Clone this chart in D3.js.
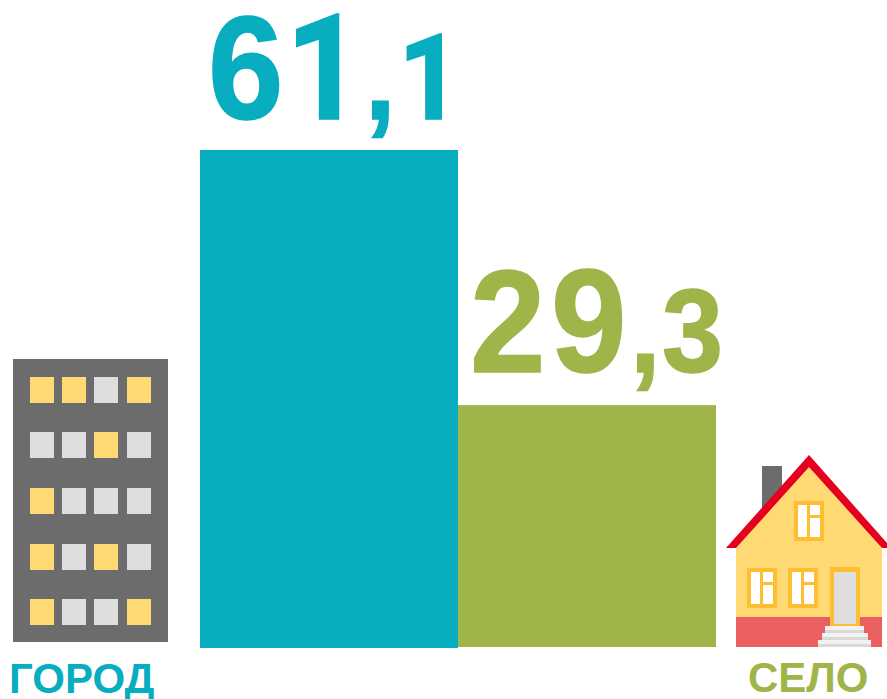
<!DOCTYPE html>
<html>
<head>
<meta charset="utf-8">
<script src="https://cdn.jsdelivr.net/npm/d3@7"></script>
<style>
/* the reference "1" has no foot, Liberation's has one */
@font-face { font-family: "One"; src: local("Roboto Bold"), local("Roboto-Bold"); font-weight: bold; unicode-range: U+0031; }
html, body { margin: 0; padding: 0; background: #fff; }
svg { display: block; }
text { font-family: "Liberation Sans", Arial, sans-serif; font-weight: bold; }
text.value { font-family: "One", "Liberation Sans", Arial, sans-serif; }
</style>
</head>
<body>
<script>
// values
var categories = ['ГОРОД', 'СЕЛО'];
var valueLabels = [['61', ',1'], ['29', ',3']];
// bar lengths (the second bar is drawn a bit taller than 29,3)
var barValues = [61.1, 29.8];

// colours
var teal = '#08adbf', green = '#9fb54a';
var barColors = [teal, green];
var grey = '#6b6c6b', yellow = '#ffd973', light = '#dedede';

// building windows, 1 = lit
var windowRows = [
	[1, 1, 0, 1],
	[0, 0, 1, 0],
	[1, 0, 0, 0],
	[1, 0, 1, 0],
	[1, 0, 0, 1]
];

var width = 887;
var height = 699;

var svg = d3.select('body').append('svg')
.attr('width', width)
.attr('height', height);

var x = d3.scaleBand().domain(categories).range([200, 716]);
var y = d3.scaleLinear().domain([0, 61.1]).range([648, 150]);

svg.selectAll('rect.bar')
.data(categories)
.enter()
.append('rect')
.attr('class', 'bar')
.attr('x', function(d) { return x(d); })
.attr('y', function(d, i) { return y(barValues[i]); })
.attr('width', x.bandwidth())
.attr('height', function(d, i) { return y(0) - y(barValues[i]) - i; })
.attr('fill', function(d, i) { return barColors[i]; });

// value labels, whole part bigger than the decimals
var squeeze = 0.93;
var bigX = [[8, 86], [12, 93]];
var smallX = [[165, 198], [172, 204]];
var labelGap = [31, 33];
function glyphX(list) {
	return list.map(function(v) { return v / squeeze; }).join(' ');
}
var labels = svg.selectAll('text.value')
.data(categories)
.enter()
.append('text')
.attr('class', 'value')
.attr('transform', function(d, i) {
	return 'translate(' + x(d) + ',' + (y(barValues[i]) - labelGap[i]) + ') scale(' + squeeze + ',1)';
})
.attr('fill', function(d, i) { return barColors[i]; })
.attr('stroke', function(d, i) { return barColors[i]; })
.attr('stroke-width', 1.5);

labels.append('tspan')
.attr('font-size', 146)
.attr('x', function(d, i) { return glyphX(bigX[i]); })
.text(function(d, i) { return valueLabels[i][0]; });
labels.append('tspan')
.attr('font-size', 118)
.attr('x', function(d, i) { return glyphX(smallX[i]); })
.text(function(d, i) { return valueLabels[i][1]; });

// building
var building = svg.append('g');
building.append('rect')
.attr('x', 13).attr('y', 359)
.attr('width', 155).attr('height', 283)
.attr('fill', grey);

var winX = [30, 62, 94, 127];
var winY = [377, 432, 488, 544, 599];
windowRows.forEach(function(row, r) {
	building.selectAll('rect.w' + r)
	.data(row)
	.enter()
	.append('rect')
	.attr('class', 'w' + r)
	.attr('x', function(d, i) { return winX[i]; })
	.attr('y', winY[r])
	.attr('width', 24)
	.attr('height', 26)
	.attr('fill', function(d) { return d ? yellow : light; });
});

// house
var house = svg.append('g');
var frame = '#fdbe32';
house.append('rect').attr('x', 762).attr('y', 466).attr('width', 20).attr('height', 50).attr('fill', grey);
house.append('path').attr('d', 'M736,548L809,462L882,548V647H736Z').attr('fill', yellow);
house.append('rect').attr('x', 736).attr('y', 617).attr('width', 146).attr('height', 30).attr('fill', '#ec5f60');
house.append('path').attr('d', 'M726,548L809,455L887,543V548H882L809,467L736,548Z').attr('fill', '#e5001f');

function houseWindow(wx, wy) {
	var g = house.append('g').attr('transform', 'translate(' + wx + ',' + wy + ')');
	g.append('rect').attr('width', 30).attr('height', 40).attr('fill', frame);
	g.append('rect').attr('x', 4).attr('y', 4).attr('width', 9).attr('height', 32).attr('fill', '#fff');
	g.append('rect').attr('x', 16).attr('y', 4).attr('width', 10).attr('height', 10).attr('fill', '#fff');
	g.append('rect').attr('x', 16).attr('y', 17).attr('width', 10).attr('height', 19).attr('fill', '#fff');
}
houseWindow(794, 501);
houseWindow(747, 568);
houseWindow(788, 568);

// door
house.append('rect').attr('x', 830).attr('y', 567).attr('width', 30).attr('height', 60).attr('fill', frame);
house.append('rect').attr('x', 834).attr('y', 572).attr('width', 22).attr('height', 52).attr('fill', light);

// steps
var stepX = [825, 822, 818];
var stepW = [39, 46, 53];
var stepY = [626, 633, 640];
stepX.forEach(function(sx, i) {
	house.append('rect').attr('x', sx).attr('y', stepY[i]).attr('width', stepW[i]).attr('height', 7).attr('fill', '#f2f2f2');
	house.append('rect').attr('x', sx).attr('y', stepY[i] + 4).attr('width', stepW[i]).attr('height', 3).attr('fill', '#d9d9d9');
});

// category names
var nameX = [9, 748];
var nameY = [693, 692];
svg.selectAll('text.name')
.data(categories)
.enter()
.append('text')
.attr('class', 'name')
.attr('x', function(d, i) { return nameX[i]; })
.attr('y', function(d, i) { return nameY[i]; })
.attr('font-size', 42)
.attr('fill', function(d, i) { return barColors[i]; })
.text(function(d) { return d; });
</script>
</body>
</html>
